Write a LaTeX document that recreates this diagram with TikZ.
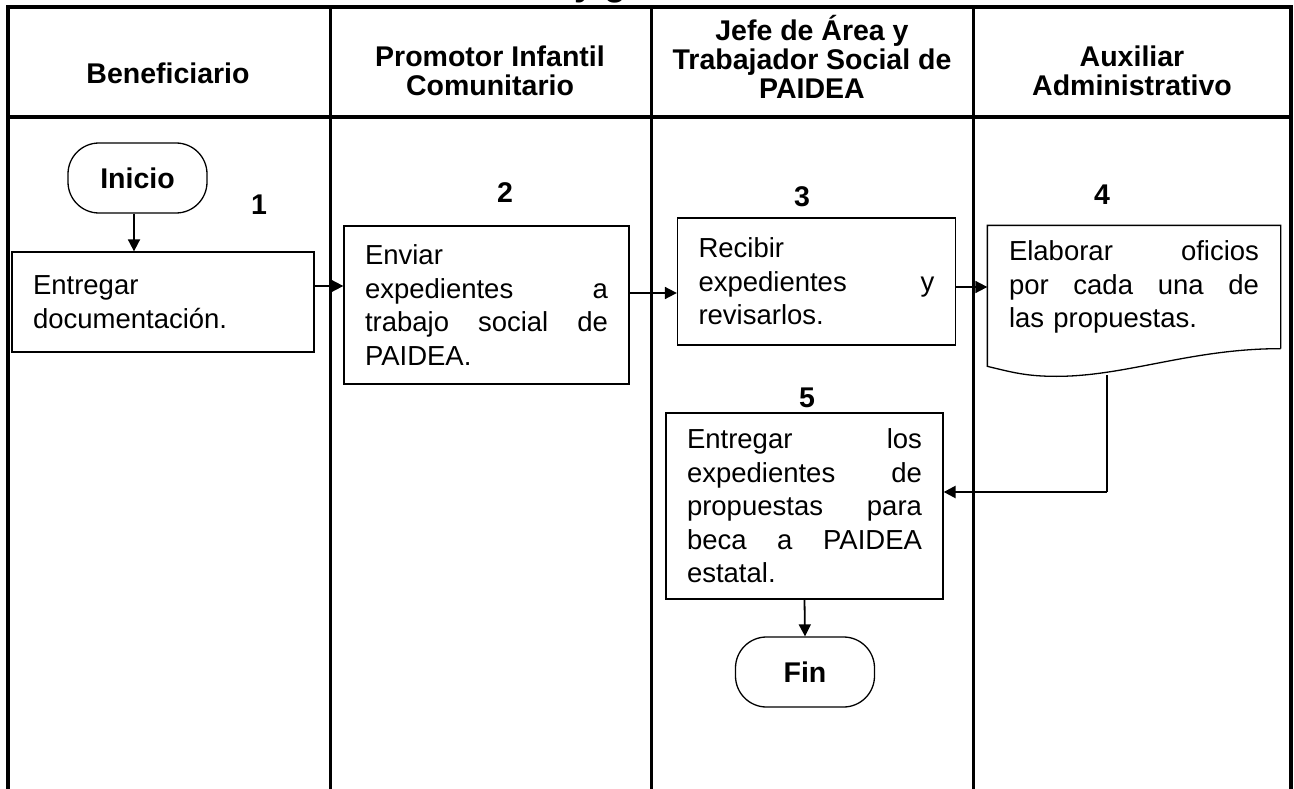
\documentclass[tikz,border=0pt]{standalone}
\usepackage{fontspec}
\setmainfont{Liberation Sans}
\usetikzlibrary{arrows.meta}
\newcommand{\bodysize}{\fontsize{27.5}{33.5}\selectfont}
\newcommand{\headsize}{\fontsize{28.5}{29}\selectfont\bfseries}

\begin{document}
\begin{tikzpicture}[x=1pt,y=-1pt,>={Triangle[length=12pt,width=12pt]}]
    \tikzstyle{lane}=[line width=3pt]
    \tikzstyle{head}=[font=\headsize,align=center]
    \tikzstyle{num}=[font=\headsize]
    \tikzstyle{task}=[draw,line width=1.3pt,font=\bodysize,align=left,inner xsep=21pt,inner ysep=0pt]
    \tikzstyle{term}=[draw,line width=1.3pt,rounded corners=31pt,font=\headsize,minimum width=139pt,minimum height=70pt]
    \tikzstyle{flow}=[->,line width=1.8pt]
    \useasboundingbox (0,0) rectangle (1294,789);

    % title cut by the page edge
    \node[font=\fontsize{36}{40}\selectfont\bfseries,anchor=base west,inner sep=0pt] (title) at (574,-4.5) {y g};

    % lanes
    \draw[lane,line width=3.5pt] (8,789) -- (8,7) -- (1291,7) -- (1291,789);
    \draw[lane,line width=3.5pt] (8,117) -- (1291,117);
    \foreach \x in {330,651,973}
      \draw[lane] (\x,7) -- (\x,789);

    \node[head] (h1) at (168,73)  {Beneficiario};
    \node[head] (h2) at (490,71)  {Promotor Infantil\\Comunitario};
    \node[head] (h3) at (812,57)  {Jefe de Área y\\Trabajador Social de\\PAIDEA};
    \node[head] (h4) at (1132,71) {Auxiliar\\Administrativo};

    % steps
    \node[term] (ini) at (137.5,178) {Inicio};
    \node[task,text width=260pt,minimum height=100pt] (s1) at (163,302)
      {Entregar\\documentación.};
    \node[task,text width=243pt,minimum height=158pt] (s2) at (486.5,305)
      {Enviar\\expedientes\hfill a\\trabajo\hfill social\hfill de\\PAIDEA.};
    \node[task,text width=236pt,minimum height=127pt] (s3) at (816.5,281.5)
      {Recibir\\expedientes\hfill y\\revisarlos.};
    \node[task,draw=none,text width=250pt,minimum height=122pt] (s4) at (1134,287)
      {Elaborar\hfill oficios\\por\hfill cada\hfill una\hfill de\\las propuestas.};
    \node[task,text width=235pt,minimum height=186pt] (s5) at (804.5,506)
      {Entregar\hfill los\\expedientes\hfill de\\propuestas\hfill para\\beca\hfill a\hfill PAIDEA\\estatal.};
    \node[term] (fin) at (805,672) {Fin};

    \draw[line width=1.3pt] (s4.south east) -- (s4.north east) -- (s4.north west)
      -- ++(0,141) .. controls +(25,6) and +(-30,0) .. ++(69,10)
      .. controls +(70,0) and +(-90,0) .. (s4.south east);

    \node[num] (n1) at (259,205)  {1};
    \node[num] (n2) at (505,193)  {2};
    \node[num] (n3) at (802,197)  {3};
    \node[num] (n4) at (1102,195) {4};
    \node[num] (n5) at (807,398)  {5};

    % connectors
    \path (s1.east) ++(0,-16) coordinate (a1);
    \path (s2.east) ++(0,-12) coordinate (a2);
    \path (s3.east) ++(0,5.5) coordinate (a3);
    \coordinate (d4) at (1107,375);
    \coordinate (k4) at (1107,492);

    \draw[flow] (ini.south -| 134,0) -- (134,0 |- s1.north);
    \draw[flow] (a1) -- (a1 -| s2.west);
    \draw[flow] (a2) -- (a2 -| s3.west);
    \draw[flow] (a3) -- (a3 -| s4.west);
    \draw[line width=1.3pt] (d4) -- (k4);
    \draw[flow,line width=2.4pt] (k4) -- (k4 -| s5.east);
    \draw[flow] (s5.south) -- (fin.north);
\end{tikzpicture}
\end{document}
